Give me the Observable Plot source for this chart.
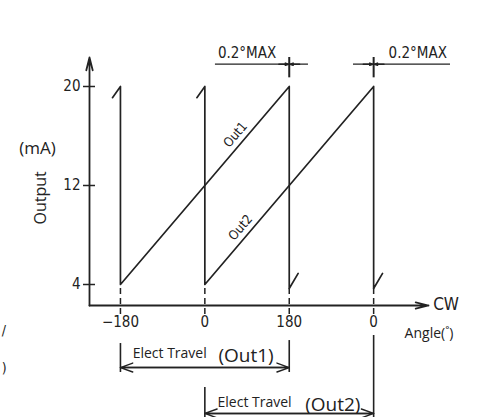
<!DOCTYPE html>
<html><head><meta charset="utf-8">
<script src="https://cdn.jsdelivr.net/npm/d3@7"></script>
<script src="https://cdn.jsdelivr.net/npm/@observablehq/plot@0.6"></script>
<style>
html,body{margin:0;padding:0;background:#fff;}
</style>
</head><body><div id="chart"></div>
<script>
// ---- data ----
const angleTicks = [-180, 0, 180, 360];
const angleTickLabels = ["\u2212180", "0", "180", "0"];
const outputTicks = [4, 12, 20];
const axisAngleExtent = [-246, 477];   // degrees
const axisOutputExtent = [2.303, 22.343]; // mA

// sawtooth series (angle °, output mA)
const out1Angle = [-197, -180, -180, 180, 180, 199];
const out1mA    = [19.1, 20, 4, 20, 3.68, 4.9];
const out2Angle = [-17, 0, 0, 360, 360, 379];
const out2mA    = [19.1, 20, 4, 20, 3.68, 4.9];

const seriesLabels = ["Out1", "Out2"];
const seriesLabelAngle = [65, 76];
const seriesLabelmA = [16.1, 8.6];

const dimTicks = [180, 360];
const dimLabel = "0.2\u00B0MAX";
const dimLabelAngle = [90, 454];

const travelNames = ["(Out1)", "(Out2)"];
const travelStart = [-180, 0];
const travelEnd = [180, 360];

// ---- build ----
const ink = "#222";
const rows = [];
out1Angle.forEach((a, i) => rows.push({s: "Out1", a, v: out1mA[i]}));
out2Angle.forEach((a, i) => rows.push({s: "Out2", a, v: out2mA[i]}));
const cond = "'Liberation Sans Narrow','DejaVu Sans Condensed','Liberation Sans',sans-serif";
const sans = "'Open Sans','Noto Sans',sans-serif";

const chart = Plot.plot({
  width: 481, height: 417,
  marginLeft: 89, marginRight: 53, marginTop: 57, marginBottom: 112,
  x: {domain: axisAngleExtent},
  y: {domain: axisOutputExtent},
  style: {fontFamily: cond, color: ink, background: "#fff", overflow: "visible"},
  marks: [
    // axes with arrows
    Plot.arrow([0], {x1: axisAngleExtent[0], x2: axisAngleExtent[0], y1: axisOutputExtent[0], y2: axisOutputExtent[1], stroke: ink, strokeWidth: 1.8, headLength: 11, headAngle: 28}),
    Plot.arrow([0], {x1: axisAngleExtent[0], x2: axisAngleExtent[1], y1: axisOutputExtent[0], y2: axisOutputExtent[0], stroke: ink, strokeWidth: 1.8, headLength: 11, headAngle: 28}),
    Plot.axisY(outputTicks, {anchor: "left", tickSize: 12, dx: 6, tickPadding: 3, label: null, fontSize: 15, stroke: ink, strokeWidth: 1.5}),
    Plot.axisX(angleTicks, {anchor: "bottom", tickSize: 0, tickPadding: 11, label: null, fontSize: 15, tickFormat: (d) => angleTickLabels[angleTicks.indexOf(d)]}),
    // dashed ticks through x axis
    Plot.ruleX(angleTicks, {y1: 3.68, y2: 1.55, stroke: ink, strokeWidth: 1.5, strokeDasharray: "6,4"}),
    // sawtooth outputs
    Plot.line(rows, {x: "a", y: "v", z: "s", stroke: ink, strokeWidth: 1.7}),
    Plot.text(seriesLabels, {x: (d, i) => seriesLabelAngle[i], y: (d, i) => seriesLabelmA[i], text: d => d, rotate: -49.5, fontSize: 13, fill: ink}),
    // 0.2° MAX dimension markers
    Plot.ruleX(dimTicks, {y1: 20.7, y2: axisOutputExtent[1], stroke: ink, strokeWidth: 2}),
    Plot.ruleY([21.8], {x1: 22.6, x2: 221, stroke: ink, strokeWidth: 1.3}),
    Plot.ruleY([21.8], {x1: 317, x2: 524, stroke: ink, strokeWidth: 1.3}),
    Plot.arrow(dimTicks, {x1: d => d - 22, x2: d => d - 2, y1: 21.8, y2: 21.8, stroke: ink, strokeWidth: 1.6, headLength: 9, headAngle: 40}),
    Plot.arrow(dimTicks, {x1: d => d + 22, x2: d => d + 2, y1: 21.8, y2: 21.8, stroke: ink, strokeWidth: 1.6, headLength: 9, headAngle: 40}),
    Plot.text(dimLabelAngle, {x: d => d, y: 22.67, text: () => dimLabel, fontSize: 15, fill: ink}),
    // axis annotations
    Plot.text(["CW"], {x: 487, y: 2.38, text: d => d, textAnchor: "start", fontSize: 17, fill: ink}),
    Plot.text(["Angle(\u02DA)"], {x: 426, y: 0.0, text: d => d, textAnchor: "start", fontSize: 14, fontFamily: sans, fill: ink}),
    Plot.text(["Output"], {x: -349, y: 11.0, text: d => d, rotate: -90, fontSize: 16, fontFamily: sans, fill: ink}),
    Plot.text(["(mA)"], {x: -357, y: 15.0, text: d => d, fontSize: 17, fontFamily: sans, fill: ink}),
    // Elect travel brackets
    Plot.ruleX([-180], {y1: -0.77, y2: -3.11, stroke: ink, strokeWidth: 1.6}),
    Plot.ruleX([180], {y1: -0.53, y2: -3.11, stroke: ink, strokeWidth: 1.6}),
    Plot.ruleX([0], {y1: -4.32, y2: -7.0, stroke: ink, strokeWidth: 1.6}),
    Plot.ruleX([360], {y1: -0.12, y2: -7.0, stroke: ink, strokeWidth: 1.6}),
    Plot.arrow([0], {x1: travelStart[0], x2: travelEnd[0], y1: -2.71, y2: -2.71, stroke: ink, strokeWidth: 1.4, headLength: 14, headAngle: 40}),
    Plot.arrow([0], {x1: travelEnd[0], x2: travelStart[0], y1: -2.71, y2: -2.71, stroke: ink, strokeWidth: 1.4, headLength: 14, headAngle: 40}),
    Plot.arrow([0], {x1: travelStart[1], x2: travelEnd[1], y1: -6.42, y2: -6.42, stroke: ink, strokeWidth: 1.4, headLength: 14, headAngle: 40}),
    Plot.arrow([0], {x1: travelEnd[1], x2: travelStart[1], y1: -6.42, y2: -6.42, stroke: ink, strokeWidth: 1.4, headLength: 14, headAngle: 40}),
    Plot.text(["Elect Travel"], {x: -154, y: -1.58, text: d => d, textAnchor: "start", fontSize: 14, fontFamily: sans, fill: ink}),
    Plot.text([travelNames[0]], {x: 29, y: -1.74, text: d => d, textAnchor: "start", fontSize: 19, fontFamily: sans, fill: ink}),
    Plot.text(["Elect Travel"], {x: 27, y: -5.54, text: d => d, textAnchor: "start", fontSize: 14, fontFamily: sans, fill: ink}),
    Plot.text([travelNames[1]], {x: 214, y: -5.7, text: d => d, textAnchor: "start", fontSize: 19, fontFamily: sans, fill: ink}),
    // glyph fragments at left edge
    Plot.text(["/"], {x: -433, y: 0.28, text: d => d, textAnchor: "start", fontSize: 14, fill: ink}),
    Plot.text([")"], {x: -433, y: -2.8, text: d => d, textAnchor: "start", fontSize: 14, fill: ink})
  ]
});
document.getElementById("chart").appendChild(chart);
</script>
</body></html>
